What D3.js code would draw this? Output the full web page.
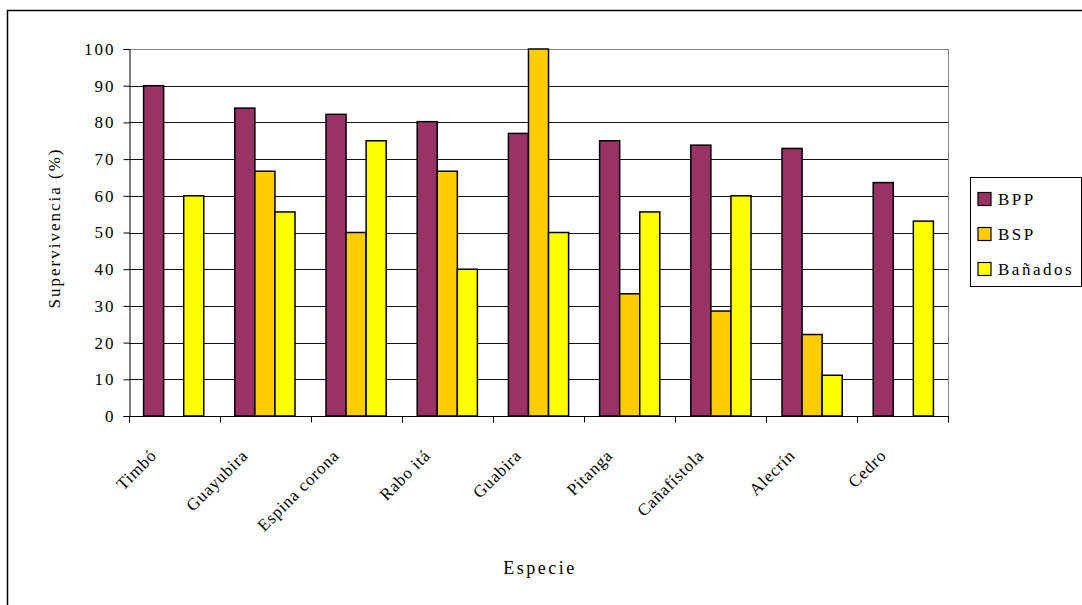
<!DOCTYPE html>
<html>
<head>
<meta charset="utf-8">
<script src="https://cdn.jsdelivr.net/npm/d3@7"></script>
<style>
body { margin: 0; background: #fff; }
svg text { font-family: "Liberation Serif", "Times New Roman", serif; fill: #000; }
</style>
</head>
<body>
<div id="chart"></div>
<script>
var width = 1082;
var height = 605;
var serif = "Liberation Serif, Times New Roman, serif";

// data
var especies = ["Timbó", "Guayubira", "Espina corona", "Rabo itá", "Guabira", "Pitanga", "Cañafístola", "Alecrín", "Cedro"];
var series = ["BPP", "BSP", "Bañados"];
var bpp = [90, 83.9, 82.2, 80.2, 77, 75, 73.8, 72.9, 63.6];
var bsp = [0, 66.7, 50, 66.7, 100, 33.3, 28.6, 22.2, 0];
var banados = [60, 55.6, 75, 40, 50, 55.6, 60, 11.1, 53.1];
var yTicks = [0, 10, 20, 30, 40, 50, 60, 70, 80, 90, 100];
var colors = ["#993366", "#FFCC00", "#FFFF00"];

var rows = especies.map(function(e, i) {
    return { especie: e, values: [bpp[i], bsp[i], banados[i]] };
});

var svg = d3.select("#chart").append("svg")
    .attr("width", width)
    .attr("height", height);

// outer frame
svg.append("rect")
    .attr("x", 7.5).attr("y", 10.5)
    .attr("width", 1100).attr("height", 700)
    .attr("fill", "none").attr("stroke", "#000").attr("stroke-width", 1.5);

var plot = { left: 129, right: 948, top: 49, bottom: 416 };

var x = d3.scaleBand()
    .domain(especies)
    .range([plot.left, plot.right])
    .paddingInner(0.34)
    .paddingOuter(0.16);

var xs = d3.scaleBand()
    .domain(series)
    .range([0, x.bandwidth()]);

var y = d3.scaleLinear()
    .domain([0, 100])
    .range([plot.bottom, plot.top]);

var color = d3.scaleOrdinal().domain(series).range(colors);

// gridlines
svg.append("g")
    .selectAll("line")
    .data(yTicks.slice(1))
    .enter().append("line")
        .attr("x1", plot.left).attr("x2", plot.right)
        .attr("y1", function(d) { return Math.round(y(d)) + 0.5; })
        .attr("y2", function(d) { return Math.round(y(d)) + 0.5; })
        .attr("stroke", function(d) { return d == 100 ? "#808080" : "#111"; })
        .attr("stroke-width", 1);

// right border of plot area
svg.append("line")
    .attr("x1", plot.right + 0.5).attr("x2", plot.right + 0.5)
    .attr("y1", plot.top).attr("y2", plot.bottom)
    .attr("stroke", "#808080");

// bars
var groups = svg.append("g")
    .selectAll("g")
    .data(rows)
    .enter().append("g")
        .attr("transform", function(d) { return "translate(" + x(d.especie) + ",0)"; });

groups.selectAll("rect")
    .data(function(d) { return d.values.map(function(v, i) { return { key: series[i], value: v }; }); })
    .enter().filter(function(d) { return d.value > 0; })
    .append("rect")
        .attr("x", function(d) { return xs(d.key); })
        .attr("y", function(d) { return y(d.value); })
        .attr("width", xs.bandwidth())
        .attr("height", function(d) { return y(0) - y(d.value); })
        .attr("fill", function(d) { return color(d.key); })
        .attr("stroke", "#000")
        .attr("stroke-width", 1.5);

// y axis
var yAxis = svg.append("g")
    .attr("transform", "translate(" + (plot.left + 0.5) + ",0)")
    .call(d3.axisLeft(y).tickValues(yTicks).tickSize(6).tickPadding(8));
yAxis.selectAll("text")
    .attr("font-family", serif)
    .style("font-size", "17px")
    .style("letter-spacing", "2px");
yAxis.select(".domain").attr("stroke", "#000");

// x axis with ticks on category boundaries
var step = (plot.right - plot.left) / especies.length;
var xAxis = svg.append("g")
    .attr("transform", "translate(0," + (plot.bottom + 0.5) + ")");
xAxis.append("line")
    .attr("x1", plot.left).attr("x2", plot.right + 1)
    .attr("stroke", "#000");
xAxis.selectAll(".tk")
    .data(d3.range(especies.length + 1))
    .enter().append("line")
        .attr("class", "tk")
        .attr("x1", function(i) { return Math.round(plot.left + i * step) + 0.5; })
        .attr("x2", function(i) { return Math.round(plot.left + i * step) + 0.5; })
        .attr("y1", 0).attr("y2", 6)
        .attr("stroke", "#000");

xAxis.selectAll(".lbl")
    .data(especies)
    .enter().append("text")
        .attr("class", "lbl")
        .attr("text-anchor", "end")
        .attr("transform", function(d) {
            return "translate(" + (x(d) + x.bandwidth() / 2 - 22) + ",34) rotate(-45)";
        })
        .attr("dy", "0.5em")
        .style("font-size", "17px")
        .style("letter-spacing", "0.8px")
        .text(function(d) { return d; });

// axis titles
svg.append("text")
    .attr("transform", "translate(54,228) rotate(-90)")
    .attr("text-anchor", "middle")
    .attr("dy", "0.35em")
    .style("font-size", "17px")
    .style("letter-spacing", "2px")
    .text("Supervivencia (%)");

svg.append("text")
    .attr("x", 540)
    .attr("y", 574)
    .attr("text-anchor", "middle")
    .style("font-size", "18px")
    .style("letter-spacing", "2.5px")
    .text("Especie");

// legend
var legend = svg.append("g").attr("transform", "translate(970,177)");
legend.append("rect")
    .attr("x", 0.5).attr("y", 0.5)
    .attr("width", 111).attr("height", 109)
    .attr("fill", "#fff").attr("stroke", "#000");
var item = legend.selectAll(".item")
    .data(series)
    .enter().append("g")
        .attr("class", "item")
        .attr("transform", function(d, i) { return "translate(8," + (22 + i * 35) + ")"; });
item.append("rect")
    .attr("x", 0).attr("y", -6.5)
    .attr("width", 13).attr("height", 13)
    .attr("fill", function(d) { return color(d); })
    .attr("stroke", "#000").attr("stroke-width", 1.2);
item.append("text")
    .attr("x", 20)
    .attr("dy", "0.35em")
    .style("font-size", "17px")
    .style("letter-spacing", "2.5px")
    .text(function(d) { return d; });
</script>
</body>
</html>
